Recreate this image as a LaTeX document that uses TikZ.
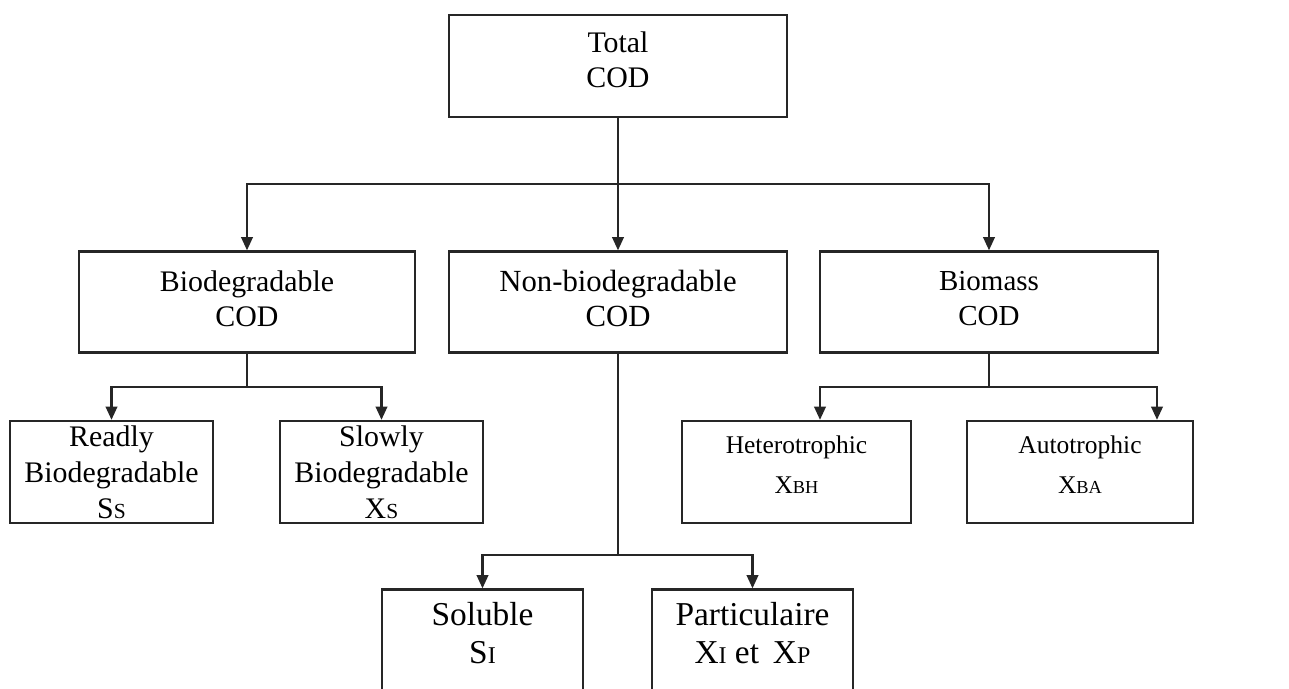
\documentclass[tikz,border=0pt]{standalone}
\usepackage{fontspec}
\setmainfont{Liberation Serif}
\usetikzlibrary{arrows.meta}
\newcommand{\lowcap}[1]{\scalebox{0.72}{#1}}

\begin{document}
\begin{tikzpicture}[x=0.02cm,y=-0.02cm,
  box/.style={draw=black!85, line width=1.3pt, align=center, inner sep=0, minimum height=2.04cm},
  link/.style={draw=black!85, line width=1.3pt},
  >={Triangle[length=7.5pt,width=6.5pt]}]
\path [use as bounding box, clip] (0,0) rectangle (1289,689);

% first and second level
\node [box, minimum width=6.76cm, font=\fontsize{17}{20}\selectfont, text depth=0.25cm] (total) at (618,66) {Total\\COD};
\node [box, minimum width=6.72cm, minimum height=2.02cm, font=\fontsize{17}{20}\selectfont, text depth=0.15cm] (bio) at (247,302) {Biodegradable\\COD};
\node [box, minimum width=6.76cm, minimum height=2.02cm, font=\fontsize{17.5}{20}\selectfont, text depth=0.15cm] (nonbio) at (618,302) {Non-biodegradable\\COD};
\node [box, minimum width=6.76cm, minimum height=2.02cm, font=\fontsize{16.5}{20}\selectfont, text depth=0.15cm] (biomass) at (989,302) {Biomass\\COD};

% leaves
\node [box, minimum width=4.06cm, font=\fontsize{17}{20.5}\selectfont] (readly) at (111.5,472) {Readly\\Biodegradable\\S\lowcap{S}};
\node [box, minimum width=4.06cm, font=\fontsize{17}{20.5}\selectfont] (slowly) at (381.5,472) {Slowly\\Biodegradable\\X\lowcap{S}};
\node [box, minimum width=4.58cm, font=\fontsize{14.5}{22.5}\selectfont, text depth=0.3cm] (hetero) at (796.5,472) {Heterotrophic\\X\lowcap{BH}};
\node [box, minimum width=4.52cm, font=\fontsize{14.5}{22.5}\selectfont, text depth=0.3cm] (auto) at (1080,472) {Autotrophic\\X\lowcap{BA}};

% bottom boxes run off the page
\node [box, minimum width=4.02cm, minimum height=4.02cm] (soluble) at (482.5,690) {};
\node [align=center, font=\fontsize{19}{22}\selectfont] (solubletxt) at (482.5,633) {Soluble\\S\lowcap{I}};
\node [box, minimum width=4.02cm, minimum height=4.02cm] (partic) at (752.5,690) {};
\node [align=center, font=\fontsize{19}{22}\selectfont] (partictxt) at (752.5,633) {Particulaire\\X\lowcap{I} et\, X\lowcap{P}};

% connectors
\coordinate (tsplit) at (618,184);
\coordinate (bsplit) at (247,387);
\coordinate (nsplit) at (618,555);
\coordinate (msplit) at (989,387);
\coordinate (mleft) at (820,0);
\coordinate (mright) at (1157,0);
\draw [link] (total) -- (tsplit);
\draw [link,->] (tsplit) -| (bio);
\draw [link,->] (tsplit) -- (nonbio);
\draw [link,->] (tsplit) -| (biomass);
\draw [link] (bio) -- (bsplit);
\draw [link,->] (bsplit) -| (readly);
\draw [link,->] (bsplit) -| (slowly);
\draw [link] (nonbio) -- (nsplit);
\draw [link,->] (nsplit) -| (soluble);
\draw [link,->] (nsplit) -| (partic);
\draw [link] (biomass) -- (msplit);
\draw [link,->] (msplit) -| (mleft |- hetero.north);
\draw [link,->] (msplit) -| (mright |- auto.north);
\end{tikzpicture}
\end{document}
